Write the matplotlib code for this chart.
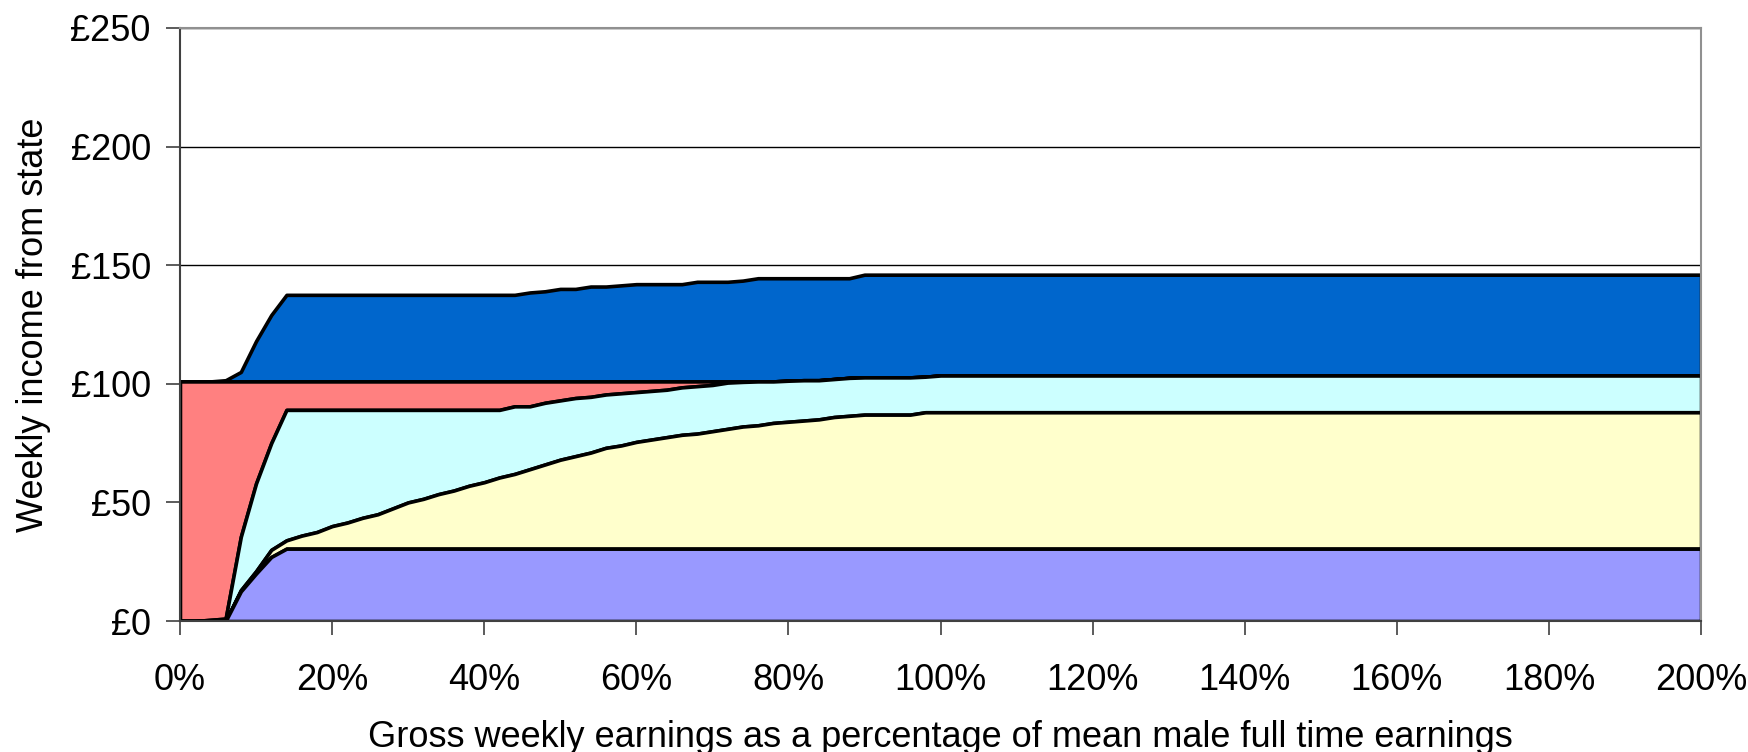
import numpy as np
import matplotlib.pyplot as plt
from matplotlib.ticker import FuncFormatter

# Earnings as % of mean male full time earnings
earnings_pct = [0, 2, 4, 6, 8, 10, 12, 14, 16, 18, 20, 22, 24, 26, 28, 30, 32, 34, 36, 38,
                40, 42, 44, 46, 48, 50, 52, 54, 56, 58, 60, 62, 64, 66, 68, 70, 72, 74, 76, 78,
                80, 82, 84, 86, 88, 90, 92, 94, 96, 98, 100, 200]

# Upper edge of each band (weekly £)
purple_top = [0, 0, 0, 0, 12.5, 20, 27, 30.5, 30.5, 30.5, 30.5, 30.5, 30.5, 30.5, 30.5, 30.5, 30.5, 30.5, 30.5, 30.5,
              30.5, 30.5, 30.5, 30.5, 30.5, 30.5, 30.5, 30.5, 30.5, 30.5, 30.5, 30.5, 30.5, 30.5, 30.5, 30.5, 30.5, 30.5, 30.5, 30.5,
              30.5, 30.5, 30.5, 30.5, 30.5, 30.5, 30.5, 30.5, 30.5, 30.5, 30.5, 30.5]
yellow_top = [0, 0, 0, 0, 13, 21, 30, 34, 36, 37.5, 40, 41.5, 43.5, 45, 47.5, 50, 51.5, 53.5, 55, 57,
              58.5, 60.5, 62, 64, 66, 68, 69.5, 71, 73, 74, 75.5, 76.5, 77.5, 78.5, 79, 80, 81, 82, 82.5, 83.5,
              84, 84.5, 85, 86, 86.5, 87, 87, 87, 87, 88, 88, 88]
cyan_top = [0, 0, 0.5, 1, 35.5, 58, 75, 89, 89, 89, 89, 89, 89, 89, 89, 89, 89, 89, 89, 89,
            89, 89, 90.5, 90.5, 92, 93, 94, 94.5, 95.5, 96, 96.5, 97, 97.5, 98.5, 99, 99.5, 100.5, 100.8, 101, 101,
            101.3, 101.5, 101.5, 102, 102.5, 102.7, 102.7, 102.7, 102.7, 103, 103.5, 103.5]
pink_level = 101
blue_top = [101, 101, 101, 101.5, 105, 118, 129, 137.5, 137.5, 137.5, 137.5, 137.5, 137.5, 137.5, 137.5, 137.5, 137.5, 137.5, 137.5, 137.5,
            137.5, 137.5, 137.5, 138.5, 139, 140, 140, 141, 141, 141.5, 142, 142, 142, 142, 143, 143, 143, 143.5, 144.5, 144.5,
            144.5, 144.5, 144.5, 144.5, 144.5, 146, 146, 146, 146, 146, 146, 146]

x = np.array(earnings_pct)
purple = np.array(purple_top)
yellow = np.array(yellow_top)
cyan = np.array(cyan_top)
blue = np.array(blue_top)
pink = np.maximum(cyan, pink_level)

plt.rcParams['font.family'] = ['Liberation Sans', 'DejaVu Sans']

fig = plt.figure(figsize=(17.49, 7.52), dpi=100)
ax = fig.add_axes([0.1029, 0.1742, 0.8697, 0.7886])

ax.set_xlim(0, 200)
ax.set_ylim(0, 250)
ax.set_yticks(range(0, 251, 50))
ax.set_xticks(range(0, 201, 20))
ax.yaxis.grid(True, color='black', linewidth=1)
ax.set_axisbelow(True)

edge = dict(edgecolor='black', linewidth=2.6, joinstyle='round')
ax.fill_between(x, pink, blue, facecolor='#0066CC', **edge)
ax.fill_between(x, cyan, pink, facecolor='#FF8080', **edge)
ax.fill_between(x, yellow, cyan, facecolor='#CCFFFF', **edge)
ax.fill_between(x, purple, yellow, facecolor='#FFFFCC', **edge)
ax.fill_between(x, 0, purple, facecolor='#9999FF', **edge)

ax.yaxis.set_major_formatter(FuncFormatter(lambda v, p: f'£{v:.0f}'))
ax.xaxis.set_major_formatter(FuncFormatter(lambda v, p: f'{v:.0f}%'))

for side in ['top', 'right']:
    ax.spines[side].set_color('#909090')
    ax.spines[side].set_linewidth(1.5)
for side in ['left', 'bottom']:
    ax.spines[side].set_color('#404040')
    ax.spines[side].set_linewidth(1.5)

ax.tick_params(axis='y', length=10, width=1.2, color='#404040', pad=11, labelsize=26)
ax.tick_params(axis='x', length=10, width=1.2, color='#404040', pad=20, labelsize=26)

ax.set_ylabel('Weekly income from state', fontsize=26, labelpad=14)
ax.set_xlabel('Gross weekly earnings as a percentage of mean male full time earnings', fontsize=26, labelpad=16)

fig.savefig('out.png', dpi=100)
